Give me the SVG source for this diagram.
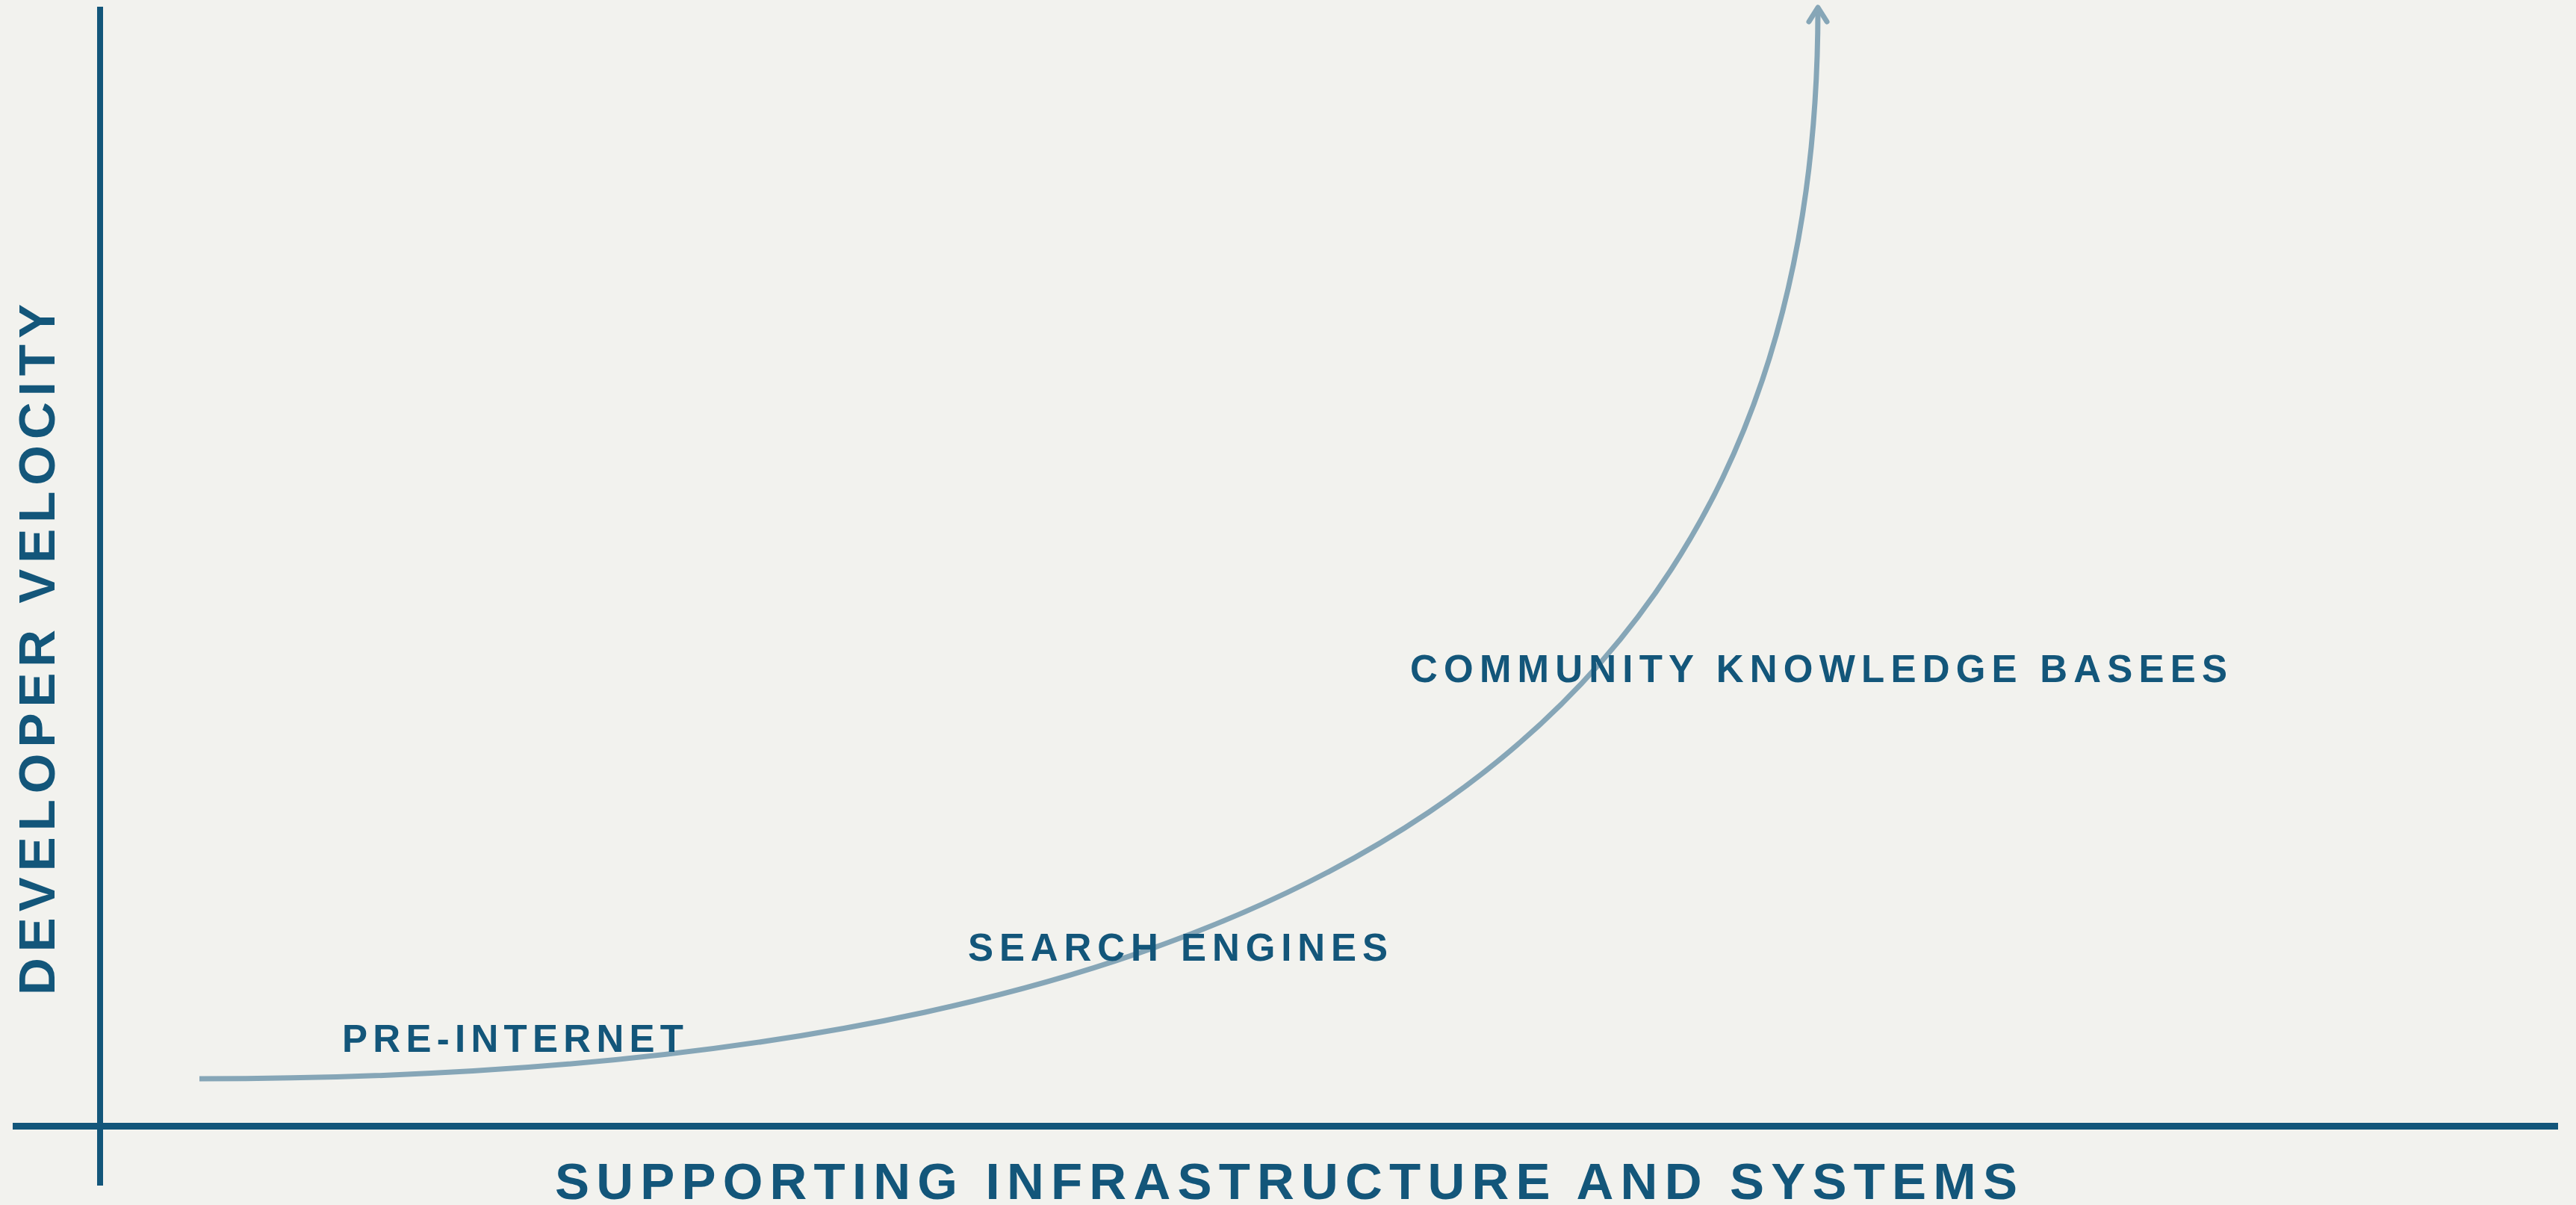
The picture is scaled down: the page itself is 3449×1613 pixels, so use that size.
<svg xmlns="http://www.w3.org/2000/svg" width="3449" height="1613" viewBox="0 0 3449 1613">
<style>
.axis{stroke:#13567a;fill:none;stroke-linecap:butt}
.curve{stroke:#86a6b7;fill:none;stroke-width:7;stroke-linecap:butt}
.head{stroke:#86a6b7;fill:none;stroke-width:7;stroke-linecap:round;stroke-linejoin:round}
.lbl{font-family:"Liberation Sans",Arial,sans-serif;font-weight:700;fill:#13567a}
.small{font-size:51px}
.big{font-size:69px}
</style>
<rect x="0" y="0" width="3449" height="1613" fill="#f2f2ee"/>
<g id="axes">
<line class="axis" x1="134" y1="9" x2="134" y2="1587" stroke-width="8"/>
<line class="axis" x1="17" y1="1507.5" x2="3425" y2="1507.5" stroke-width="9"/>
</g>
<g id="connectors">
<path class="curve" d="M267,1444 C1767,1444 2434,970 2434,12"/>
<path class="head" d="M2422,29 L2434,10 L2446,29"/>
</g>
<g id="label-y">
<text class="lbl big" transform="translate(73,1332) rotate(-90)" x="0" y="0" textLength="925" lengthAdjust="spacing">DEVELOPER VELOCITY</text>
</g>
<g id="label-x">
<text class="lbl big" x="743" y="1605" textLength="1958" lengthAdjust="spacing">SUPPORTING INFRASTRUCTURE AND SYSTEMS</text>
</g>
<g id="node-pre-internet">
<text class="lbl small" x="458" y="1408" textLength="457" lengthAdjust="spacing">PRE-INTERNET</text>
</g>
<g id="node-search-engines">
<text class="lbl small" x="1296" y="1286" textLength="562" lengthAdjust="spacing">SEARCH ENGINES</text>
</g>
<g id="node-community">
<text class="lbl small" x="1888" y="913" textLength="1094" lengthAdjust="spacing">COMMUNITY KNOWLEDGE BASEES</text>
</g>
</svg>
